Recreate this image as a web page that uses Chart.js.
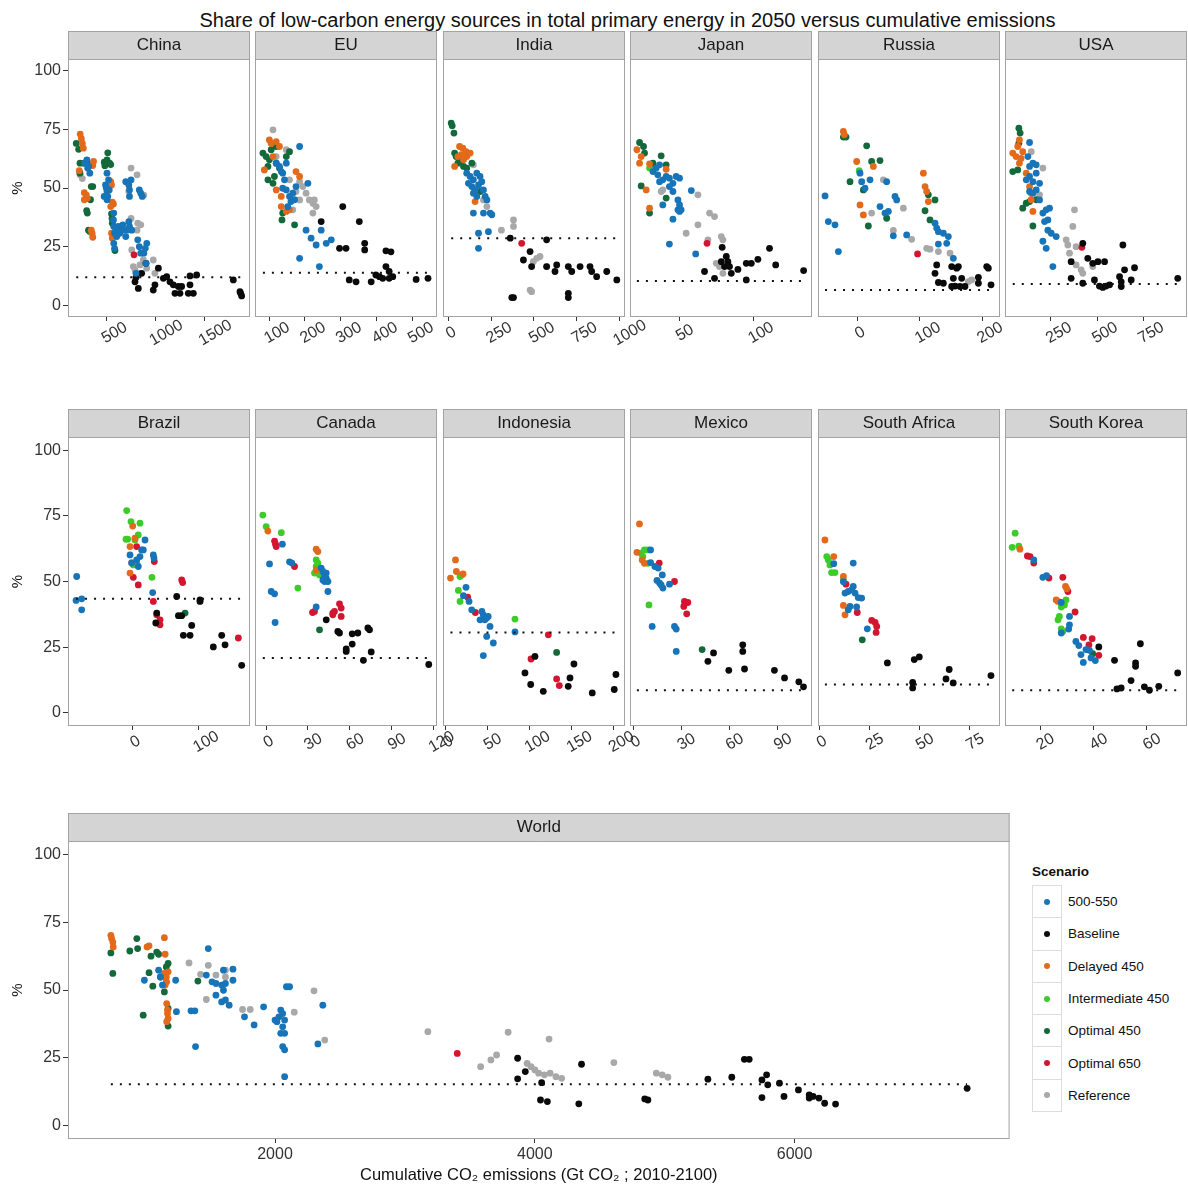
<!DOCTYPE html>
<html>
<head>
<meta charset="utf-8">
<title>Share of low-carbon energy sources vs cumulative emissions</title>
<script src="https://cdn.jsdelivr.net/npm/chart.js@4.4.1/dist/chart.umd.min.js"></script>
<style>
  html, body { margin: 0; padding: 0; background: #fff; }
  #wrap { position: relative; width: 1188px; height: 1187px; overflow: hidden; font-family: "Liberation Sans", Arial, sans-serif; }
  #wrap canvas { position: absolute; }
  #title { position: absolute; left: 68px; width: 1119px; top: 8px; text-align: center; font-size: 20px; line-height: 24px; color: #111; }
  #legend { position: absolute; left: 1032px; top: 862px; font-size: 13.5px; color: #111; }
  #legend .head { font-weight: bold; height: 24px; line-height: 20px; }
  #legend .row { display: flex; align-items: center; height: 33.3px; margin-top: -1px; }
  #legend .key { width: 30px; height: 33.3px; box-sizing: border-box; border: 1px solid #ddd; display: flex; align-items: center; justify-content: center; }
  #legend .dot { width: 6px; height: 6px; border-radius: 50%; }
  #legend .lab { margin-left: 6px; }
</style>
</head>
<body>
<div id="wrap">
  <div id="title">Share of low-carbon energy sources in total primary energy in 2050 versus cumulative emissions</div>
  <div id="legend"><div class="head">Scenario</div></div>
</div>
<script>
// scenario index used in the point lists: 0..6
const scenarios = ['500-550', 'Baseline', 'Delayed 450', 'Intermediate 450', 'Optimal 450', 'Optimal 650', 'Reference'];
const scenarioColors = ['#1874B8', '#0A0A0A', '#E3691B', '#3DCB2A', '#13693A', '#D3152F', '#A8A8A8'];

const regions = ['China', 'EU', 'India', 'Japan', 'Russia', 'USA', 'Brazil', 'Canada', 'Indonesia', 'Mexico', 'South Africa', 'South Korea', 'World'];
const refShare = [11.9, 13.9, 28.6, 10.4, 6.5, 9.1, 43.4, 20.9, 30.6, 8.6, 10.8, 8.6, 15.2];
const xTickVals = [
  [500, 1000, 1500], [100, 200, 300, 400, 500], [0, 250, 500, 750, 1000], [50, 100], [0, 100, 200], [250, 500, 750],
  [0, 100], [0, 30, 60, 90, 120], [0, 50, 100, 150, 200], [0, 30, 60, 90], [0, 25, 50, 75], [20, 40, 60],
  [2000, 4000, 6000]
];
const xLimits = [
  [108, 1961], [61, 567], [-32, 1034], [16.3, 140.1], [-63.4, 228.7], [2, 987],
  [-98.8, 179.1], [-7.9, 122.4], [-3, 213.7], [-1.9, 111.4], [-0.65, 90], [6.8, 75.1],
  [406, 7656]
];
const yTickVals = [0, 25, 50, 75, 100];

// [cumulative emissions, share %, scenario]
const chinaPts = [
  [232,73,2],[244,71,2],[254,69,2],[264,67,2],[223,57.4,2],[274,48,2],[295,47,2],[304,45.6,2],[274,45,2],[360,59.6,2],[368,61.3,2],[543,52.7,2],[551,51.3,2],[559,44,2],[571,43.2,2],[543,42.1,2],[345,32,2],[353,30.7,2],[360,29,2],[551,30.7,2],[559,28.6,2],
  [192,69,4],[216,66.5,4],[230,60.6,4],[270,60.6,4],[305,60.8,4],[230,56.3,4],[305,39.3,4],[298,40.3,4],[317,32,4],[330,31.5,4],[337,45,4],[298,45.6,4],[477,61,4],[483,59.5,4],[513,65,4],[531,60.6,4],[543,60,4],[551,39,4],[556,37,4],[559,35,4],[586,23.3,4],[505,62,4],[345,50.6,4],[360,50.6,4],
  [278,60.6,0],[300,62,0],[308,58.5,0],[319,59.2,0],[330,56.3,0],[490,51.3,0],[498,50,0],[505,48.5,0],[513,46.4,0],[505,45,0],[521,53.5,0],[528,49.2,0],[505,56.3,0],[574,39.3,0],[571,36.4,0],[574,33.6,0],[582,30.7,0],[597,32,0],[620,33.6,0],[635,30.7,0],[651,32,0],[666,34.3,0],[681,32,0],[696,29.3,0],[711,32,0],[604,29.3,0],[574,26.4,0],[696,52.7,0],[750,53.5,0],[727,51.3,0],[734,49.2,0],[734,46.4,0],[476,46.4,0],[834,49.2,0],[849,47.8,0],[864,46.4,0],[727,35.6,0],[734,33.6,0],[757,32,0],[818,27.9,0],[834,25,0],[849,22.2,0],[880,22.2,0],[895,24.3,0],[910,26.4,0],[902,17.9,0],[800,13.6,0],[582,24.3,0],
  [230,55.6,6],[254,54,6],[750,58.5,6],[811,55.6,6],[727,48.5,6],[880,47,6],[811,32,6],[818,35,6],[849,34.3,6],[750,37,6],[757,23.6,6],[773,16.5,6],[790,15,6],[824,13.6,6],[841,17.2,6],[875,19.3,6],[976,19.3,6],[993,13.6,6],[909,15.8,6],
  [780,21.5,5],
  [790,10,1],[800,11.8,1],[824,7.2,1],[858,13.6,1],[902,17.9,1],[976,6.5,1],[993,8.7,1],[1028,15.8,1],[1079,11.5,1],[1113,12.2,1],[1146,10,1],[1180,8.7,1],[1197,5.1,1],[1248,5.1,1],[1231,8,1],[1265,8,1],[1333,5.1,1],[1350,8.7,1],[1350,12.5,1],[1384,5.1,1],[1418,12.9,1],[1791,10.8,1],[1866,5.1,1],[1876,4,1],[1859,5.8,1]
];
const euPts = [
  [83,64.9,4],[92,63.4,4],[101,62,4],[97,53.5,4],[111,52,4],[120,60.6,4],[129,58.5,4],[138,39.3,4],[136,36.4,4],[171,34.3,4],[106,66.3,4],[120,67.7,4],[148,63.4,4],[157,65.5,4],[97,59.2,4],[115,54.9,4],
  [87,57.7,2],[101,70.5,2],[106,69,2],[120,69.8,2],[129,67.7,2],[111,63.4,2],[134,46.4,2],[134,42.1,2],[148,40,2],[157,40.7,2],[175,57,2],[185,54.9,2],[120,49.2,2],
  [111,74.8,6],[120,63.4,6],[148,66.3,6],[157,53.5,6],[185,52.7,6],[194,50.6,6],[203,47.8,6],[212,44.9,6],[222,43.5,6],[231,42.1,6],[222,39.3,6],[226,44.9,6],[185,44.9,6],[166,40.7,6],[175,48.5,6],
  [120,60.6,0],[129,59.2,0],[134,57,0],[138,56.3,0],[148,60.6,0],[143,53.5,0],[138,49.9,0],[148,49.2,0],[157,46.4,0],[161,44.2,0],[152,42,0],[166,47.8,0],[175,50.6,0],[185,67.7,0],[208,52,0],[203,32,0],[217,28.6,0],[245,32,0],[259,26.4,0],[273,27.9,0],[240,16.5,0],[185,20,0],[231,25.7,0],[171,45,0],
  [245,35.7,1],[305,42.1,1],[296,24.3,1],[314,24.3,1],[323,10.8,1],[342,10,1],[351,35.7,1],[366,26.4,1],[366,23.6,1],[384,10,1],[397,12.9,1],[407,12.2,1],[416,11.5,1],[425,23.2,1],[439,22.8,1],[425,16.5,1],[434,14.4,1],[444,12.2,1],[434,11.5,1],[509,11,1],[542,11.5,1]
];
const indiaPts = [
  [16,77.7,4],[22,76.5,4],[32,73.4,4],[36,64.9,4],[45,63.4,4],[68,61.3,4],[88,59.2,4],[107,58.5,4],[55,60.6,4],[185,48.5,4],[137,60.6,4],
  [36,59.2,2],[65,67.7,2],[84,67,2],[103,65.5,2],[107,63.4,2],[75,64.2,2],[88,62,2],[55,63.4,2],[156,44.2,2],[127,64.9,2],
  [146,59.9,6],[225,42.1,6],[310,32,6],[381,36.4,6],[381,33.6,6],[517,20,6],[497,18.6,6],[536,20.8,6],[575,16.5,6],[478,6.5,6],[487,5.8,6],[205,44.9,6],
  [107,56.3,0],[127,54.9,0],[146,53.5,0],[166,56.3,0],[185,54.9,0],[117,52,0],[137,50.6,0],[156,49.2,0],[176,51.3,0],[195,52.7,0],[205,49.2,0],[215,46.4,0],[225,44.9,0],[244,39.3,0],[205,39.3,0],[146,39.3,0],[254,38.6,0],[234,31.4,0],[176,30.7,0],[176,24.3,0],[146,47.8,0],[166,46.4,0],
  [429,26.4,5],
  [362,28.6,1],[371,3.3,1],[381,3.3,1],[439,19.3,1],[478,22.9,1],[487,16.5,1],[575,27.9,1],[575,16.5,1],[624,14.4,1],[634,17.2,1],[702,16.5,1],[702,5.1,1],[702,3.3,1],[722,14.4,1],[771,16.5,1],[829,16.5,1],[839,14.4,1],[868,12.2,1],[927,14.4,1],[986,10.8,1]
];
const japanPts = [
  [22.8,69.4,4],[25.5,67.7,4],[26.2,64.9,4],[23.9,50.9,4],[29.6,39.3,4],[31.9,60.6,4],[37.5,63.7,4],[40.9,59.9,4],[40.9,45.7,4],[31.9,59.2,4],
  [21,66.3,2],[22.8,60.6,2],[23.9,63.4,2],[27.3,49.2,2],[29.6,41.4,2],[40.9,58,2],[29.6,60.3,2],
  [29.6,58.5,3],
  [31.9,57,0],[34.1,58.5,0],[36.4,59.9,0],[35.2,55.6,0],[36.4,52.7,0],[38.6,53.5,0],[40.9,54.9,0],[43.1,54.2,0],[45.5,52,0],[47.7,54.9,0],[50,54.2,0],[43.1,50.6,0],[45.5,48.5,0],[48.9,44.9,0],[50,42.8,0],[48.9,40.7,0],[45.5,36.7,0],[38.6,42.8,0],[43.1,26.1,0],[58,48.9,0],[61,21.9,0],[51.1,40.7,0],[50,40,0],
  [38.6,49.2,6],[37.5,48.5,6],[62.5,47.1,6],[70.4,39.3,6],[73.8,37.8,6],[62.5,34.3,6],[54.5,30.7,6],[69.3,27.9,6],[79.5,27.9,6],[75,17.9,6],[77.2,16.5,6],[79.5,13.6,6],[78.4,29.3,6],
  [68.7,26.4,5],
  [79,24.7,1],[78.4,18.6,1],[81.8,20.8,1],[82.9,18.6,1],[84,16.5,1],[80.6,16.5,1],[85.2,13.6,1],[89.7,15.3,1],[95.4,17.9,1],[98.8,17.9,1],[103.3,19.6,1],[111.2,24.3,1],[115.4,17.2,1],[134.4,14.8,1],[95.4,10.8,1],[73.8,11.5,1],[67,14.4,1]
];
const russiaPts = [
  [-22.7,74.1,2],[-21.1,72.7,2],[-1.3,61.3,2],[25.4,59.2,2],[4,42.8,2],[9.4,38.5,2],[105.7,56.3,2],[108.4,50.6,2],[111,48.5,2],[113.7,44.2,2],
  [-22.7,71.7,4],[-18.4,71.7,4],[14.7,68,4],[22.7,61.3,4],[36.1,61.7,4],[-12,52.7,4],[9.4,49.2,4],[17.4,33.8,4],[46.8,37.1,4],[113.7,47.1,4],[124.4,44.9,4],[108.4,40.3,4],[116.4,36.4,4],
  [2.7,57.4,3],
  [-52.1,46.6,0],[-46.8,35.7,0],[-36.1,34.3,0],[-30.7,22.9,0],[4,56.3,0],[6.7,52.7,0],[12,49.9,0],[20.1,53.5,0],[36.1,42.1,0],[44.1,39.3,0],[49.5,40,0],[46.8,52.7,0],[60.2,46.4,0],[62.9,44.9,0],[57.5,29.6,0],[78.9,30,0],[124.4,35,0],[127.1,32.9,0],[129.8,31.4,0],[137.8,30.7,0],[145.8,29.3,0],[143.2,26.4,0],[153.8,20,0],[129.8,26.1,0],
  [22.7,39.3,6],[41.5,53.5,6],[57.5,31.9,6],[73.6,41.4,6],[86.9,28.1,6],[111,24.3,6],[116.4,23.9,6],[129.8,22.9,6],[148.5,22.2,6],[177.9,10.1,6],[183.3,10.8,6],
  [96.4,21.9,5],
  [127.1,17.2,1],[124.4,13.6,1],[129.8,9.7,1],[137.8,9.4,1],[151.2,16.5,1],[159.2,15.8,1],[161.9,16.5,1],[153.8,11.5,1],[156.5,8.2,1],[164.5,8,1],[172.5,8,1],[151.2,8,1],[167.2,11.5,1],[194,11.9,1],[194,9.4,1],[207.4,16.5,1],[210,15.8,1],[214.3,8.7,1]
];
const usaPts = [
  [77,75.5,4],[84,73.4,4],[77,69.1,4],[44,57,4],[71,57.7,4],[98,41.4,4],[135,44.2,4],[153,33.8,4],[171,45,4],[117,43.5,4],
  [44,64.9,2],[62,63.4,2],[80,70.5,2],[71,67.7,2],[89,62.6,2],[80,60.6,2],[135,50.6,2],[144,47.8,2],[144,45,2],[153,40,2],[117,56.3,2],[98,65.5,2],
  [135,69.4,0],[126,63.4,0],[135,59.2,0],[153,60.6,0],[171,59.9,0],[117,53.5,0],[135,54.9,0],[153,52.7,0],[171,56.3,0],[189,52,0],[135,48.5,0],[153,47.8,0],[171,49.2,0],[189,44.9,0],[207,39.3,0],[225,40.7,0],[243,41.4,0],[216,35.7,0],[234,32,0],[252,30.7,0],[279,29.3,0],[207,27.3,0],[225,24.3,0],[261,16.5,0],[234,36.4,0],
  [144,65.5,6],[207,58.5,6],[189,47.1,6],[378,40.7,6],[369,33.6,6],[333,27.9,6],[342,25.7,6],[351,22.2,6],[387,17.2,6],[414,15.1,6],[423,13.6,6],[477,16.5,6],[387,25,6],
  [418,24.7,5],
  [423,26.4,1],[360,18.6,1],[360,11.5,1],[423,9.4,1],[450,20,1],[477,17.9,1],[505,18.6,1],[541,18.6,1],[486,10.8,1],[513,8.2,1],[531,7.6,1],[549,8.2,1],[568,8.7,1],[622,12.2,1],[631,10,1],[631,8,1],[640,25.7,1],[649,15.1,1],[703,16,1],[685,10.8,1],[937,11.5,1]
];
const brazilPts = [
  [-85.5,51.9,0],[-86.5,42.8,0],[-77.9,43.4,0],[-77.9,39.2,0],[-4.1,60.1,0],[-1.6,57,0],[6,58.2,0],[8.5,55.7,0],[11.1,59.5,0],[13.6,62,0],[18.8,65.8,0],[16.2,62,0],[31.5,60.1,0],[32.5,58.9,0],[30.5,45.8,0],
  [-9.2,77,3],[-10.2,66.1,3],[-7.7,66.1,3],[-2.6,72.8,3],[3.5,65.8,3],[11.1,72.2,3],[8.5,67.7,3],[0.9,56.3,3],[6,57,3],[29.4,51.6,3],
  [-4.1,63.3,2],[0,71.1,2],[3.5,66.5,2],[-4.1,53.2,2],[-1.6,57.2,2],
  [0.9,51.6,5],[6,63.3,5],[8.5,48.7,5],[33,57.6,5],[31.5,42.4,5],[36.7,37.3,5],[41.7,35.4,5],[41.7,33.5,5],[74.8,50.6,5],[76.3,49.6,5],[161.3,28.5,5],
  [80,38,4],
  [35.2,34.2,1],[36.7,38,1],[67.2,44.3,1],[69.8,37,1],[74.8,37,1],[77.4,29.5,1],[87.6,29.5,1],[90.1,33.3,1],[102.8,43,1],[102.8,42.4,1],[123.1,25.1,1],[135.9,29.5,1],[141,25.9,1],[166.4,18.1,1]
];
const canadaPts = [
  [-2.3,75.3,3],[0.1,70.9,3],[10.9,68.6,3],[35.9,58.2,3],[37.1,57,3],[35.9,55.7,3],[38.3,52.5,3],[22.8,47.5,3],[34.7,53.2,3],
  [1.3,69.2,2],[35.9,62.3,2],[37.1,61.4,2],[35.9,54.4,2],
  [11.7,64.2,0],[2.5,56.7,0],[3.7,46.2,0],[6.1,45.3,0],[6.5,34.4,0],[35.9,40.3,0],[39.5,55.1,0],[40.7,53.8,0],[41.9,52.5,0],[43.1,51.3,0],[44.3,50,0],[41.9,50,0],[44.3,46.2,0],[43.1,53.2,0],[40.7,50.6,0],[16.8,57.5,0],[18.5,57,0],
  [6.1,65.4,5],[6.8,64.2,5],[7.3,63.3,5],[20.4,55.7,5],[33.3,38.2,5],[34.7,38.6,5],[47.8,38,5],[49,38.6,5],[52.6,41.5,5],[53.8,39.9,5],[53.8,36.7,5],[47.8,37.3,5],
  [38.3,31.6,4],
  [43.1,35.4,1],[51.4,31,1],[52.6,30.4,1],[57.4,24.3,1],[57.4,23.4,1],[61.7,26.2,1],[61.7,30.1,1],[65.7,30.4,1],[72.9,32.3,1],[74.1,31.6,1],[69.7,20,1],[75.3,23.2,1],[116.5,18.4,1]
];
const indonesiaPts = [
  [5.9,51.3,2],[11.9,58.2,2],[12.9,53.8,2],[20.9,52.9,2],
  [15.3,46.6,3],[17.3,42.4,3],[17.3,51.9,3],[19.3,52.5,3],[82.7,35.7,3],
  [24.4,47.8,0],[21.3,44.6,0],[28,42.4,0],[31.2,39.2,0],[43.3,38.6,0],[45,37.3,0],[49,36.1,0],[41.1,35.4,0],[46.8,35.4,0],[53,32.9,0],[49,29.1,0],[56.9,26.6,0],[45,21.8,0],[82.7,30.8,0],[50.8,36.7,0],
  [26.4,44,5],[35.5,38.2,5],[122.4,29.7,5],[101.8,20.5,5],[132.3,12.9,5],[135.5,10.4,5],
  [132.3,23,4],
  [106.5,21.5,1],[94.6,15.2,1],[101.4,10.8,1],[116.4,8.2,1],[146.1,10.1,1],[148.2,13.3,1],[152.9,18.6,1],[174.7,7.6,1],[200.9,8.9,1],[202.9,14.6,1]
];
const mexicoPts = [
  [4,71.9,2],[2.4,61.1,2],[5.7,58.2,2],[7.1,56.9,2],
  [5,60.8,3],[7.1,62,3],[9.3,62,3],[6.1,59.5,3],[9.9,41.1,3],[9.3,56.9,3],
  [10.9,62,0],[10.9,57.2,0],[13.6,55.7,0],[15.6,55.1,0],[18.2,52.5,0],[14.9,50.4,0],[16.5,49.4,0],[18.6,47.5,0],[17.5,48.7,0],[22.7,49,0],[11.9,32.9,0],[25.8,32.9,0],[26.9,31.9,0],[26.9,23.4,0],
  [16.3,57,5],[25.8,50,5],[32,42.4,5],[34.1,42,5],[31.6,40.5,5],[33.4,37.7,5],
  [43,24.1,4],
  [50.1,22.8,1],[46.6,19.6,1],[59.6,16.2,1],[68.3,25.9,1],[68.3,23.4,1],[69.4,16.7,1],[88,16.2,1],[94.3,13.3,1],[103.2,11.8,1],[106.1,9.9,1]
];
const southAfricaPts = [
  [2.8,65.8,2],[7.2,59.5,2],[12,51.9,2],[12,40.9,2],[12.8,37.3,2],
  [3.7,59.5,3],[4.5,58.2,3],[5.3,56.3,3],[6.1,53.4,3],[7.8,53.4,3],[12,50.6,3],
  [7.2,56.8,0],[16.9,57,0],[12,49.9,0],[12.8,45.6,0],[14.4,46.2,0],[16.1,46.8,0],[16.9,48.1,0],[17.8,45.6,0],[19.4,43.9,0],[21.1,43.7,0],[15.3,40.5,0],[18.6,40.3,0],[23.9,32,0],[14.4,39.2,0],
  [13.3,49,5],[18.9,38.2,5],[26.1,35.2,5],[27.8,34.4,5],[28.6,32.9,5],[28.3,30.6,5],
  [21.4,27.8,4],
  [33.9,19,1],[47.3,20.3,1],[49.8,21.3,1],[46.5,11.6,1],[46.5,9.5,1],[63.1,12.9,1],[64.7,16.5,1],[66.7,11.4,1],[85.5,14.2,1]
];
const southKoreaPts = [
  [10.6,68.4,3],[9.5,63,3],[12,63.5,3],[29.7,43,3],[29.1,41.1,3],[27.9,40.3,3],[27.2,36.7,3],[26.7,35.4,3],[27.9,32,3],[28.5,31,3],
  [12.4,62.3,2],[26,43,2],[26.7,42.4,2],[29.5,48.1,2],[30,47.2,2],
  [15.2,59.7,5],[16.2,59.5,5],[17.6,57,5],[23.3,51.3,5],[28.5,51.6,5],[30.4,46.2,5],[33.1,38.4,5],[36.2,28.7,5],[39.5,28.2,5],[38.3,25.9,5],[42,21.9,5],
  [17.6,58.2,0],[21,51.6,0],[22.4,52.2,0],[27.9,42,0],[31,36.7,0],[30.7,31.9,0],[31,33.5,0],[27.9,30.4,0],[33.4,27.2,0],[34.5,25.6,0],[35.3,22.2,0],[37.2,24.1,0],[36.2,19.2,0],[38.5,23.8,0],[39.1,20.9,0],[40.7,19.9,0],[37.8,24.1,0],
  [39.7,22.5,4],
  [42,25.1,1],[47.9,20,1],[48.8,9.1,1],[50.4,9.5,1],[54.1,12.3,1],[55.8,19,1],[55.8,17.7,1],[57.6,26.3,1],[59.1,9.9,1],[61,8.6,1],[64.5,10.1,1],[71.6,15.2,1]
];
const worldPts = [
  [736,70.2,2],[742,69,2],[751,67.7,2],[754,65.9,2],[1015,65.9,2],[1030,66.3,2],[1148,69.3,2],[1154,63.2,2],[1148,56.1,2],[1163,54.8,2],[1177,56.7,2],[1154,51.8,2],[1166,45,2],[1172,42.6,2],[1177,39.5,2],[1166,38.3,2],[1163,53,2],[1172,41.3,2],
  [736,63.7,4],[751,56.1,4],[882,64.4,4],[942,65.3,4],[936,69,4],[985,40.7,4],[1045,62.5,4],[1030,56.4,4],[1059,51.4,4],[1089,64,4],[1104,63.2,4],[1118,54.8,4],[1148,49.3,4],[1163,53,4],[1177,59.8,4],[1177,43.2,4],[1177,36.7,4],[1406,53.3,4],[1163,58.5,4],
  [1148,54.8,3],
  [994,53.6,0],[1104,57.3,0],[1118,54.8,0],[1133,51.8,0],[1235,53.6,0],[1241,42,0],[1353,42.3,0],[1388,29.1,0],[1383,42.3,0],[1486,65.3,0],[1471,55.5,0],[1515,53,0],[1545,52.4,0],[1545,48.1,0],[1589,51.8,0],[1603,57.3,0],[1618,52.4,0],[1603,49.9,0],[1589,45.6,0],[1618,46.3,0],[1676,57.7,0],[1676,53.6,0],[1647,44.4,0],[1765,40.1,0],[1839,37.1,0],[1912,43.8,0],[2000,38.9,0],[2030,40.1,0],[2044,42.6,0],[2059,41.3,0],[2074,38.9,0],[2044,34,0],[2074,34,0],[2059,29.1,0],[2074,27.9,0],[2074,18,0],[2088,51.2,0],[2112,51.2,0],[2330,30.1,0],[2368,44.4,0],[2015,38.3,0],[2059,36.4,0],
  [1338,60,6],[1427,55.8,6],[1486,59.1,6],[1471,46.5,6],[1545,55.5,6],[1618,54.8,6],[1618,57.3,6],[1750,42.8,6],[1809,42.8,6],[2148,41.8,6],[2300,49.7,6],[2383,31.5,6],[3177,34.6,6],[3583,21.7,6],[3662,24.2,6],[3706,26,6],[3795,34.4,6],[3941,22.9,6],[3971,21.7,6],[4001,20.5,6],[4030,19.3,6],[4074,18.7,6],[4118,19.3,6],[4163,18,6],[4207,17.4,6],[4110,31.9,6],[4609,23.2,6],[4936,19.3,6],[4981,18.7,6],[5025,17.8,6],
  [3403,26.6,5],
  [3868,24.8,1],[3868,17.2,1],[3927,19.9,1],[4053,15.8,1],[4044,9.4,1],[4097,8.8,1],[4339,8,1],[4360,22.6,1],[4847,9.8,1],[4871,9.4,1],[5333,17.1,1],[5517,17.8,1],[5614,24.4,1],[5651,24.4,1],[5749,10.3,1],[5749,16.8,1],[5785,18.7,1],[5794,15,1],[5884,15.6,1],[5919,10.7,1],[6030,13.1,1],[6113,11.3,1],[6113,10.1,1],[6143,10.7,1],[6188,10.1,1],[6232,8.2,1],[6316,7.9,1],[7329,13.7,1]
];

const regionPts = [chinaPts, euPts, indiaPts, japanPts, russiaPts, usaPts, brazilPts, canadaPts, indonesiaPts, mexicoPts, southAfricaPts, southKoreaPts, worldPts];

const FONT = '"Liberation Sans", Arial, sans-serif';
const wrap = document.getElementById('wrap');

// grey facet strip behind the title block + panel border
const stripPlugin = {
  id: 'strip',
  beforeDraw(chart) {
    const { ctx, chartArea: a } = chart;
    const t = chart.titleBlock;
    ctx.save();
    ctx.fillStyle = '#D4D4D4';
    ctx.fillRect(a.left, t.top, a.right - a.left, a.top - t.top);
    ctx.restore();
  },
  afterDraw(chart) {
    const { ctx, chartArea: a } = chart;
    const t = chart.titleBlock;
    ctx.save();
    ctx.strokeStyle = '#A3A3A3';
    ctx.lineWidth = 1;
    ctx.strokeRect(a.left + 0.5, t.top + 0.5, a.right - a.left - 1, a.bottom - t.top - 1);
    ctx.beginPath();
    ctx.moveTo(a.left, a.top + 0.5);
    ctx.lineTo(a.right, a.top + 0.5);
    ctx.stroke();
    ctx.restore();
  }
};

// slanted x tick labels, centred a little right of the tick like ggplot
const slantPlugin = {
  id: 'slant',
  afterDraw(chart) {
    if (!chart.$slant) return;
    const { ctx, chartArea: a } = chart;
    const sx = chart.scales.x;
    ctx.save();
    ctx.font = '16px ' + FONT;
    ctx.fillStyle = '#333';
    ctx.textAlign = 'center';
    ctx.textBaseline = 'middle';
    sx.ticks.forEach(t => {
      const s = String(t.value);
      const w = ctx.measureText(s).width;
      ctx.save();
      ctx.translate(sx.getPixelForValue(t.value) + 0.3 * w, a.bottom + 16);
      ctx.rotate(-Math.PI / 6);
      ctx.fillText(s, 0, 0);
      ctx.restore();
    });
    ctx.restore();
  }
};

function addPanel(i, box) {
  const pts = regionPts[i];
  const c = document.createElement('canvas');
  c.width = box.w;
  c.height = box.h;
  c.style.left = box.x + 'px';
  c.style.top = box.y + 'px';
  c.style.width = box.w + 'px';
  c.style.height = box.h + 'px';
  wrap.appendChild(c);

  const xs = pts.map(p => p[0]);
  const datasets = [{
    label: 'ref',
    data: [{ x: Math.min(...xs), y: refShare[i] }, { x: Math.max(...xs), y: refShare[i] }],
    showLine: true,
    borderColor: '#111',
    borderWidth: 2,
    borderDash: [2, 7],
    pointRadius: 0
  }];
  scenarios.forEach((s, k) => {
    datasets.push({
      label: s,
      data: pts.filter(p => p[2] === k).map(p => ({ x: p[0], y: p[1] })),
      backgroundColor: scenarioColors[k],
      borderWidth: 0,
      pointRadius: 3.4,
      pointHoverRadius: 3.4
    });
  });

  const chart = new Chart(c, {
    type: 'scatter',
    data: { datasets },
    options: {
      responsive: false,
      animation: false,
      devicePixelRatio: 1,
      events: [],
      layout: { padding: { left: box.padL, right: box.padR, top: 0, bottom: 0 } },
      plugins: {
        legend: { display: false },
        tooltip: { enabled: false },
        title: {
          display: true,
          text: regions[i],
          fullSize: false,
          color: '#1a1a1a',
          font: { family: FONT, size: 17, weight: 'normal', lineHeight: 1.2 },
          padding: { top: 4, bottom: 3.6 }
        }
      },
      scales: {
        x: {
          type: 'linear',
          min: xLimits[i][0],
          max: xLimits[i][1],
          afterBuildTicks: s => { s.ticks = xTickVals[i].map(v => ({ value: v })); },
          afterFit: s => { s.height = box.axisH; },
          grid: { drawOnChartArea: false, tickLength: 4, color: '#333' },
          border: { display: false },
          ticks: {
            display: !box.slant,
            autoSkip: false,
            maxRotation: 0,
            padding: 2,
            color: '#333',
            font: { family: FONT, size: 16 },
            callback: v => String(v)
          },
          title: {
            display: !!box.xTitle,
            text: box.xTitle || '',
            color: '#111',
            font: { family: FONT, size: 16.5 },
            padding: { top: 0, bottom: 2 }
          }
        },
        y: {
          min: -5,
          max: 105,
          display: box.yAxis,
          afterBuildTicks: s => { s.ticks = yTickVals.map(v => ({ value: v })); },
          afterFit: s => { if (box.yAxis) s.width = 68; },
          grid: { drawOnChartArea: false, tickLength: 5, color: '#333' },
          border: { display: false },
          ticks: { padding: 2, color: '#333', font: { family: FONT, size: 16 }, callback: v => String(v) },
          title: { display: true, text: '%', color: '#111', font: { family: FONT, size: 15 }, padding: { top: 9, bottom: 0 } }
        }
      }
    },
    plugins: [stripPlugin, slantPlugin]
  });
  chart.$slant = box.slant;
  chart.draw();
}

const colLefts = [68, 255, 443, 630, 818, 1005];
const rowTops = [31, 409];
const plotH = [258, 289];

for (let i = 0; i < 12; i++) {
  const row = Math.floor(i / 6), col = i % 6;
  const first = col === 0;
  addPanel(i, {
    x: first ? 0 : colLefts[col] - 10,
    y: rowTops[row],
    w: (first ? 68 : 10) + 182 + 30,
    h: 28 + plotH[row] + 45,
    padL: first ? 0 : 10,
    padR: 30,
    axisH: 45,
    yAxis: first,
    slant: true
  });
}
addPanel(12, {
  x: 0, y: 813, w: 1013, h: 374,
  padL: 0, padR: 1, axisH: 48,
  yAxis: true, slant: false,
  xTitle: 'Cumulative CO\u2082 emissions (Gt CO\u2082 ; 2010-2100)'
});

// legend
const legend = document.getElementById('legend');
scenarios.forEach((s, k) => {
  const row = document.createElement('div');
  row.className = 'row';
  row.innerHTML = '<div class="key"><div class="dot" style="background:' + scenarioColors[k] + '"></div></div><div class="lab">' + s + '</div>';
  legend.appendChild(row);
});
</script>
</body>
</html>
